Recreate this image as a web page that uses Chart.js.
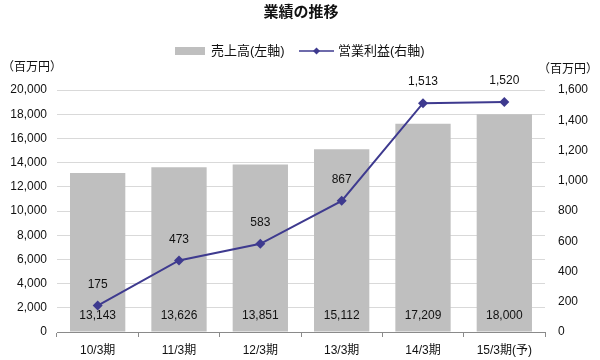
<!DOCTYPE html>
<html>
<head>
<meta charset="utf-8">
<script src="https://cdn.jsdelivr.net/npm/chart.js@4/dist/chart.umd.min.js"></script>
<style>
html,body{margin:0;padding:0;background:#fff;}
#wrap{position:relative;width:600px;height:360px;}
</style>
</head>
<body>
<div id="wrap"><canvas id="c" width="600" height="360"></canvas></div>
<script>
const chartTitle = '業績の推移';
const categories = ['10/3期','11/3期','12/3期','13/3期','14/3期','15/3期(予)'];
const salesName = '売上高(左軸)';
const profitName = '営業利益(右軸)';
const sales = [13143, 13626, 13851, 15112, 17209, 18000];
const profit = [175, 473, 583, 867, 1513, 1520];
const unitLabel = '（百万円）';
const leftTicks = {min: 0, max: 20000, step: 2000};
const rightTicks = {min: 0, max: 1600, step: 200};

const FONT = "'Liberation Sans', 'Noto Sans CJK JP', sans-serif";
const BAR_COLOR = '#bfbfbf';
const LINE_COLOR = '#3e3a8f';
const fmt = v => Number(v).toLocaleString('en-US');

const decor = {
  id: 'decor',
  afterDatasetsDraw(chart) {
    const ctx = chart.ctx;
    ctx.save();
    ctx.fillStyle = '#111';
    ctx.textAlign = 'center';
    ctx.textBaseline = 'middle';
    ctx.font = '12px ' + FONT;
    const barMeta = chart.getDatasetMeta(0);
    const yL = chart.scales.y;
    barMeta.data.forEach((el, i) => {
      ctx.fillText(fmt(sales[i]), el.x, yL.getPixelForValue(0) - 16);
    });
    const lineMeta = chart.getDatasetMeta(1);
    lineMeta.data.forEach((el, i) => {
      ctx.fillText(fmt(profit[i]), el.x, el.y - 21);
    });
    ctx.restore();
  },
  afterDraw(chart) {
    const ctx = chart.ctx;
    ctx.save();
    ctx.fillStyle = '#111';
    ctx.textBaseline = 'middle';
    ctx.textAlign = 'center';
    ctx.font = 'bold 15px ' + FONT;
    ctx.fillText(chartTitle, 301, 13);
    ctx.font = '13px ' + FONT;
    ctx.textAlign = 'left';
    ctx.fillStyle = BAR_COLOR;
    ctx.fillRect(175, 47, 30, 8);
    ctx.fillStyle = '#111';
    ctx.fillText(salesName, 211, 51);
    ctx.strokeStyle = LINE_COLOR;
    ctx.lineWidth = 1.5;
    ctx.beginPath(); ctx.moveTo(299, 51); ctx.lineTo(334, 51); ctx.stroke();
    ctx.fillStyle = LINE_COLOR;
    ctx.beginPath();
    ctx.moveTo(316.5, 47.5); ctx.lineTo(320, 51); ctx.lineTo(316.5, 54.5); ctx.lineTo(313, 51); ctx.closePath(); ctx.fill();
    ctx.fillStyle = '#111';
    ctx.fillText(profitName, 338, 51);
    ctx.font = '12px ' + FONT;
    ctx.textAlign = 'left';
    ctx.fillText(unitLabel, 2, 68);
    ctx.fillText(unitLabel, 538, 70);
    ctx.restore();
  }
};

new Chart(document.getElementById('c'), {
  type: 'bar',
  data: {
    labels: categories,
    datasets: [
      {
        type: 'bar',
        label: salesName,
        data: sales,
        backgroundColor: BAR_COLOR,
        borderWidth: 0,
        yAxisID: 'y',
        categoryPercentage: 1,
        barPercentage: 0.68,
        order: 2
      },
      {
        type: 'line',
        label: profitName,
        data: profit,
        borderColor: LINE_COLOR,
        backgroundColor: LINE_COLOR,
        borderWidth: 2,
        pointStyle: 'rectRot',
        pointRadius: 5,
        pointBorderWidth: 0,
        pointBackgroundColor: LINE_COLOR,
        yAxisID: 'y1',
        tension: 0,
        order: 1
      }
    ]
  },
  options: {
    responsive: false,
    animation: false,
    devicePixelRatio: 1,
    layout: {padding: {top: 90, bottom: 0, left: 0, right: 0}},
    plugins: {
      legend: {display: false},
      title: {display: false},
      tooltip: {enabled: false}
    },
    scales: {
      x: {
        offset: true,
        grid: {display: true, offset: true, drawOnChartArea: false, drawTicks: true, tickLength: 5, color: '#8a8a8a'},
        border: {display: true, color: '#8a8a8a', width: 1},
        ticks: {font: {family: FONT, size: 12}, color: '#111', padding: 6, maxRotation: 0},
        afterFit(s) { s.height = 28; }
      },
      y: {
        position: 'left',
        min: leftTicks.min, max: leftTicks.max,
        ticks: {stepSize: leftTicks.step, font: {family: FONT, size: 12}, color: '#111', padding: 10,
          callback: v => fmt(v)},
        grid: {color: '#d9d9d9', drawTicks: false},
        border: {display: false},
        afterFit(s) { s.width = 57; }
      },
      y1: {
        position: 'right',
        min: rightTicks.min, max: rightTicks.max,
        ticks: {stepSize: rightTicks.step, font: {family: FONT, size: 12}, color: '#111', padding: 13,
          callback: v => fmt(v)},
        grid: {drawOnChartArea: false, drawTicks: false},
        border: {display: false},
        afterFit(s) { s.width = 55; }
      }
    }
  },
  plugins: [decor]
});
</script>
</body>
</html>
